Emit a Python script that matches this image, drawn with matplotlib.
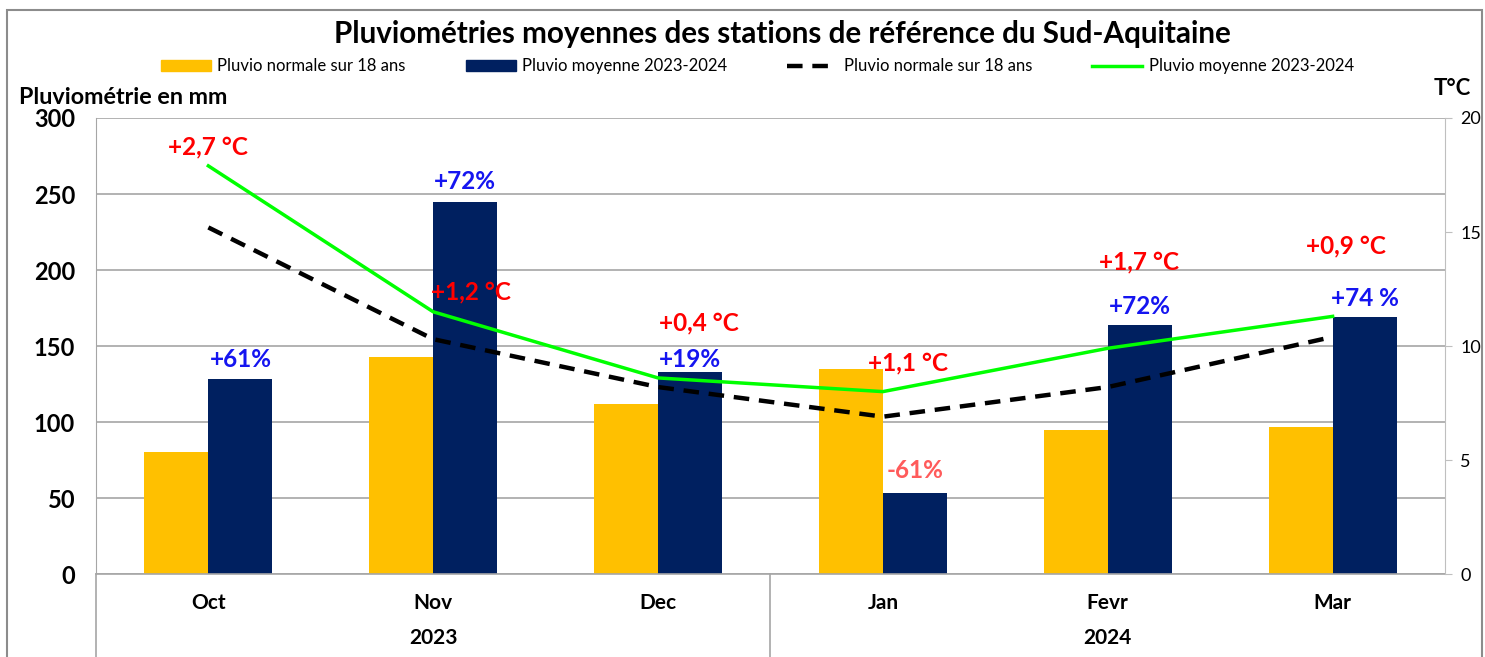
import matplotlib.pyplot as plt
from matplotlib.patches import Rectangle
from matplotlib.lines import Line2D
import numpy as np

plt.rcParams['font.family'] = ['Lato', 'DejaVu Sans']

# Data
months = ['Oct', 'Nov', 'Dec', 'Jan', 'Fevr', 'Mar']
years = ['2023', '2024']
pluvio_normale = [80, 143, 112, 135, 95, 97]
pluvio_moyenne = [128, 245, 133, 53, 164, 169]
temp_normale = [15.2, 10.3, 8.2, 6.9, 8.2, 10.4]
temp_moyenne = [17.9, 11.5, 8.6, 8.0, 9.9, 11.3]
pct_labels = ['+61%', '+72%', '+19%', '-61%', '+72%', '+74 %']
temp_labels = ['+2,7 °C', '+1,2 °C', '+0,4 °C', '+1,1 °C', '+1,7 °C', '+0,9 °C']

# Label layout (offsets)
pct_offset = [13, 13, 8, 15, 12, 12]          # mm above navy bar
pct_colors = ['#1515F0', '#1515F0', '#1515F0', '#FF5B5B', '#1515F0', '#1515F0']
temp_dx = [0.0, 0.17, 0.18, 0.11, 0.14, 0.06]
temp_y = [18.73, 12.37, 11.0, 9.25, 13.68, 14.39]  # °C position of labels

yellow = '#FFC000'
navy = '#002060'
green = '#00FF00'

fig = plt.figure(figsize=(14.85, 6.57), dpi=100)
ax = fig.add_axes([0.0646, 0.1263, 0.9085, 0.6941])
ax2 = ax.twinx()

x = np.arange(len(months))
w = 0.285
ax.bar(x - w / 2, pluvio_normale, w, color=yellow, zorder=2)
ax.bar(x + w / 2, pluvio_moyenne, w, color=navy, zorder=2)

ax2.plot(x, temp_normale, color='black', lw=3.2, dashes=(3.5, 2.2), zorder=3)
ax2.plot(x, temp_moyenne, color=green, lw=2.5, zorder=4)

ax.set_xlim(-0.5, 5.5)
ax.set_ylim(0, 300)
ax2.set_ylim(0, 20)
ax.set_yticks(range(0, 301, 50))
ax2.set_yticks(range(0, 21, 5))
ax.yaxis.grid(True, color='#A6A6A6', lw=1.2, zorder=0)
ax.set_axisbelow(True)

for a in (ax, ax2):
    for s in ('top', 'bottom', 'left', 'right'):
        a.spines[s].set_visible(False)
ax2.spines['right'].set_visible(True)
ax2.spines['right'].set_color('#BFBFBF')
ax2.spines['left'].set_visible(True)
ax2.spines['left'].set_color('#A6A6A6')
ax.spines['bottom'].set_visible(True)
ax.spines['bottom'].set_color('#A6A6A6')
ax.spines['bottom'].set_linewidth(1.2)

ax.tick_params(axis='y', length=0, pad=15, labelsize=17)
for t in ax.get_yticklabels():
    t.set_fontweight('bold')
ax2.tick_params(axis='y', length=5, color='#BFBFBF', labelsize=13, pad=6)
ax.set_xticks(x)
ax.set_xticklabels(months, fontsize=15, fontweight='bold')
ax.tick_params(axis='x', length=0, pad=14)

# year labels and separators
ax.text(1, -0.14, years[0], transform=ax.get_xaxis_transform(), ha='center', va='center',
        fontsize=15, fontweight='bold')
ax.text(4, -0.14, years[1], transform=ax.get_xaxis_transform(), ha='center', va='center',
        fontsize=15, fontweight='bold')
for xs in (-0.5, 2.5):
    ax.plot([xs, xs], [0, -0.2], transform=ax.get_xaxis_transform(), color='#A6A6A6',
            lw=1.2, clip_on=False)

# annotations
for i in range(len(months)):
    ax.text(x[i] + w / 2, pluvio_moyenne[i] + pct_offset[i], pct_labels[i], ha='center',
            va='center', fontsize=17.5, fontweight='bold', color=pct_colors[i], zorder=5)
    ax2.text(x[i] + temp_dx[i], temp_y[i], temp_labels[i], ha='center', va='center',
             fontsize=17.5, fontweight='bold', color='#FF0000', zorder=5)

# titles
fig.text(0.527, 0.949, 'Pluviométries moyennes des stations de référence du Sud-Aquitaine',
         ha='center', va='center', fontsize=21.3, fontweight='bold')
fig.text(0.013, 0.852, 'Pluviométrie en mm', ha='left', va='center', fontsize=16.8, fontweight='bold')
fig.text(0.978, 0.866, 'T°C', ha='center', va='center', fontsize=16, fontweight='bold')

handles = [Rectangle((0, 0), 1, 1, color=yellow), Rectangle((0, 0), 1, 1, color=navy),
           Line2D([], [], color='black', lw=3.2, dashes=(3.5, 2.2)), Line2D([], [], color=green, lw=2.5)]
labels = ['Pluvio normale sur 18 ans', 'Pluvio moyenne 2023-2024',
          'Pluvio normale sur 18 ans', 'Pluvio moyenne 2023-2024']
fig.legend(handles, labels, loc='center', bbox_to_anchor=(0.51, 0.899), ncol=4, frameon=False,
           fontsize=12, handlelength=3, handleheight=0.7, columnspacing=3.6, handletextpad=0.4)

# outer frame
fig.patches.append(Rectangle((0.005, -0.1), 0.993, 1.085, transform=fig.transFigure,
                             fill=False, edgecolor='#8C8C8C', lw=1.5))

fig.savefig('out.png', dpi=100)
